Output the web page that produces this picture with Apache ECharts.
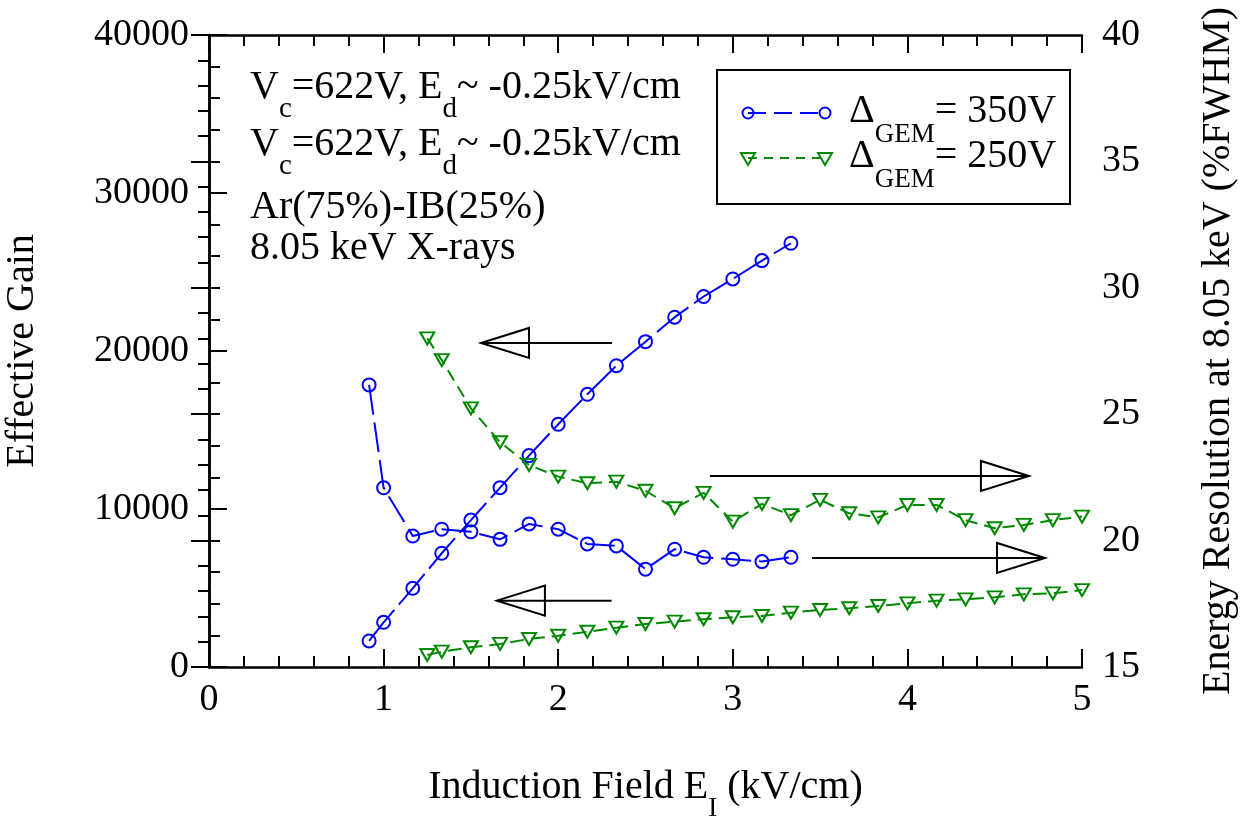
<!DOCTYPE html>
<html>
<head>
<meta charset="utf-8">
<script src="https://cdn.jsdelivr.net/npm/echarts@6/dist/echarts.min.js"></script>
<style>
  html, body { margin: 0; padding: 0; background: #fff; }
  #chart { width: 1245px; height: 816px; }
</style>
</head>
<body>
<div id="chart"></div>
<script>
// field values (kV/cm)
var blueX = [0.917, 1.0, 1.167, 1.333, 1.5, 1.667, 1.833, 2.0, 2.167, 2.333, 2.5, 2.667, 2.833, 3.0, 3.167, 3.333];
var greenX = [1.25, 1.333, 1.5, 1.667, 1.833, 2.0, 2.167, 2.333, 2.5, 2.667, 2.833, 3.0,
  3.167, 3.333, 3.5, 3.667, 3.833, 4.0, 4.167, 4.333, 4.5, 4.667, 4.833, 5.0];

// DeltaGEM = 350V
var blueGain = [1650, 2830, 4980, 7200, 9300, 11350, 13380, 15360, 17260, 19070, 20590, 22140, 23450, 24560, 25720, 26820];
var blueRes = [26.16, 22.09, 20.18, 20.45, 20.35, 20.05, 20.66, 20.45, 19.87, 19.79, 18.87, 19.66, 19.34, 19.26, 19.17, 19.34];

// DeltaGEM = 250V
var greenGain = [760, 970, 1250, 1460, 1770, 1980, 2230, 2490, 2720, 2870, 3020, 3150,
  3230, 3440, 3610, 3720, 3860, 4030, 4200, 4280, 4410, 4600, 4660, 4870];
var greenRes = [28.00, 27.14, 25.23, 23.89, 22.99, 22.53, 22.27, 22.33, 21.97, 21.28, 21.89, 20.75,
  21.45, 21.01, 21.61, 21.08, 20.92, 21.41, 21.41, 20.81, 20.49, 20.62, 20.81, 20.95];

// arrows: [x start, y start, x tip, y tip] in left-axis units
var arrows = [
  [2.308, 20510, 1.558, 20510],
  [2.306, 4200, 1.649, 4200],
  [2.869, 12090, 4.696, 12090],
  [3.454, 6900, 4.788, 6900]
];

var BLUE = '#0000ff';
var GREEN = '#008800';
var FONT = '"Liberation Serif", "Times New Roman", serif';

function zip(xs, ys) {
  return xs.map(function (x, i) { return [x, ys[i]]; });
}

var chartDom = document.getElementById('chart');
var myChart = echarts.init(chartDom, null, { renderer: 'canvas' });

var tickStyle = { color: '#000', width: 2 };
function xAxisCfg(pos, labels) {
  return {
    type: 'value', position: pos, min: 0, max: 5, interval: 1,
    axisLine: { onZero: false, lineStyle: { color: '#000', width: 2.5 } },
    axisTick: { inside: true, length: 18, lineStyle: tickStyle },
    minorTick: { show: true, splitNumber: 5, length: 11, lineStyle: tickStyle },
    splitLine: { show: false },
    axisLabel: { show: labels, margin: 14, fontSize: 38, color: '#000', fontFamily: FONT }
  };
}

var option = {
  animation: false,
  backgroundColor: '#fff',
  grid: { left: 209, right: 163, top: 35, bottom: 149, containLabel: false, outerBoundsMode: 'none' },
  xAxis: [
    Object.assign(xAxisCfg('bottom', true), {
      name: '{m|Induction Field E}{s|I}{m| (kV/cm)}',
      nameLocation: 'middle', nameGap: 100,
      nameTextStyle: {
        rich: {
          m: { fontSize: 40, fontFamily: FONT, color: '#000', lineHeight: 44, verticalAlign: 'top' },
          s: { fontSize: 27, fontFamily: FONT, color: '#000', lineHeight: 28, padding: [28, 0, 0, 0], verticalAlign: 'top' }
        }
      }
    }),
    xAxisCfg('top', false)
  ],
  yAxis: [
    {
      type: 'value', position: 'left', min: 0, max: 40000, interval: 10000,
      name: 'Effective Gain', nameLocation: 'middle', nameGap: 167, nameRotate: 90,
      nameTextStyle: { fontSize: 40, fontFamily: FONT, color: '#000' },
      axisLine: { lineStyle: { color: '#000', width: 2.5 } },
      axisTick: { inside: true, length: 18, lineStyle: tickStyle },
      minorTick: { show: true, splitNumber: 5, length: 11, lineStyle: tickStyle },
      splitLine: { show: false },
      axisLabel: { margin: 20, fontSize: 38, color: '#000', fontFamily: FONT, formatter: function (v) { return String(v); } }
    },
    {
      type: 'value', position: 'right', min: 15, max: 40, interval: 5,
      name: 'Energy Resolution at 8.05 keV (%FWHM)', nameLocation: 'middle', nameGap: 116, nameRotate: 90,
      nameTextStyle: { fontSize: 40, fontFamily: FONT, color: '#000' },
      axisLine: { lineStyle: { color: '#000', width: 2.5 } },
      axisTick: { inside: true, length: 18, lineStyle: tickStyle },
      minorTick: { show: true, splitNumber: 5, length: 11, lineStyle: tickStyle },
      splitLine: { show: false },
      axisLabel: { margin: 20, fontSize: 38, color: '#000', fontFamily: FONT }
    }
  ],
  series: [
    {
      name: 'gain350', type: 'line', xAxisIndex: 0, yAxisIndex: 0,
      data: zip(blueX, blueGain),
      symbol: 'circle', symbolSize: 13,
      itemStyle: { color: 'rgba(0,0,0,0)', borderColor: BLUE, borderWidth: 2 },
      lineStyle: { color: BLUE, width: 2, type: [40, 7] }
    },
    {
      name: 'res350', type: 'line', xAxisIndex: 0, yAxisIndex: 1,
      data: zip(blueX, blueRes),
      symbol: 'circle', symbolSize: 13,
      itemStyle: { color: 'rgba(0,0,0,0)', borderColor: BLUE, borderWidth: 2 },
      lineStyle: { color: BLUE, width: 2, type: [30, 8] }
    },
    {
      name: 'gain250', type: 'line', xAxisIndex: 0, yAxisIndex: 0,
      data: zip(greenX, greenGain),
      symbol: 'triangle', symbolRotate: 180, symbolSize: [14, 12],
      itemStyle: { color: 'rgba(0,0,0,0)', borderColor: GREEN, borderWidth: 2 },
      lineStyle: { color: GREEN, width: 2, type: [14, 7] }
    },
    {
      name: 'res250', type: 'line', xAxisIndex: 0, yAxisIndex: 1,
      data: zip(greenX, greenRes),
      symbol: 'triangle', symbolRotate: 180, symbolSize: [14, 12],
      itemStyle: { color: 'rgba(0,0,0,0)', borderColor: GREEN, borderWidth: 2 },
      lineStyle: { color: GREEN, width: 2, type: [12, 7] }
    },
    {
      name: 'arrows', type: 'custom', xAxisIndex: 0, yAxisIndex: 0,
      silent: true,
      data: arrows,
      encode: { x: [0, 2], y: [1, 3] },
      renderItem: function (params, api) {
        var s = api.coord([api.value(0), api.value(1)]);
        var t = api.coord([api.value(2), api.value(3)]);
        var dir = t[0] > s[0] ? 1 : -1;
        var bx = t[0] - dir * 48;
        return {
          type: 'group',
          children: [
            { type: 'line', shape: { x1: s[0], y1: s[1], x2: t[0], y2: t[1] },
              style: { stroke: '#000', lineWidth: 2 } },
            { type: 'polygon', shape: { points: [[t[0], t[1]], [bx, t[1] - 15], [bx, t[1] + 15]] },
              style: { fill: 'none', stroke: '#000', lineWidth: 2 } }
          ]
        };
      }
    }
  ],
  graphic: []
};

// annotation text (top-left)
var richMain = { fontSize: 40, fontFamily: FONT, color: '#000', lineHeight: 44, verticalAlign: 'top' };
var richSub = { fontSize: 29, fontFamily: FONT, color: '#000', lineHeight: 30, padding: [28, 0, 0, 0], verticalAlign: 'top' };
var notes = [
  { top: 67, text: '{m|V}{s|c}{m|=622V, E}{s|d}{m|~ -0.25kV/cm}' },
  { top: 124, text: '{m|V}{s|c}{m|=622V, E}{s|d}{m|~ -0.25kV/cm}' },
  { top: 187, text: '{m|Ar(75%)-IB(25%)}' },
  { top: 228, text: '{m|8.05 keV X-rays}' }
];
notes.forEach(function (n) {
  option.graphic.push({
    type: 'text', left: 250, top: n.top, z: 10,
    style: { text: n.text, rich: { m: richMain, s: richSub } }
  });
});

// legend box
var legSub = { fontSize: 27, fontFamily: FONT, color: '#000', lineHeight: 28, padding: [30, 0, 0, 0], verticalAlign: 'top' };
option.graphic.push({
  type: 'rect', z: 10, shape: { x: 717, y: 70, width: 353, height: 134 },
  style: { fill: '#fff', stroke: '#000', lineWidth: 2 }
});
[
  { y: 113, color: BLUE, dash: [18, 8], label: '350V', sym: 'circle' },
  { y: 158, color: GREEN, dash: [9, 7], label: '250V', sym: 'tri' }
].forEach(function (it) {
  option.graphic.push({
    type: 'line', z: 11, shape: { x1: 748, y1: it.y, x2: 825, y2: it.y },
    style: { stroke: it.color, lineWidth: 2, lineDash: it.dash }
  });
  [748, 825].forEach(function (cx) {
    if (it.sym === 'circle') {
      option.graphic.push({ type: 'circle', z: 12, shape: { cx: cx, cy: it.y, r: 5.5 },
        style: { fill: 'none', stroke: it.color, lineWidth: 2 } });
    } else {
      option.graphic.push({ type: 'polygon', z: 12,
        shape: { points: [[cx - 7, it.y - 5], [cx + 7, it.y - 5], [cx, it.y + 7]] },
        style: { fill: 'none', stroke: it.color, lineWidth: 2 } });
    }
  });
  option.graphic.push({
    type: 'text', z: 12, left: 849, top: it.y - 22,
    style: { text: '{m|\u0394}{s|GEM}{m|= ' + it.label + '}', rich: { m: richMain, s: legSub } }
  });
});

option && myChart.setOption(option);
</script>
</body>
</html>
